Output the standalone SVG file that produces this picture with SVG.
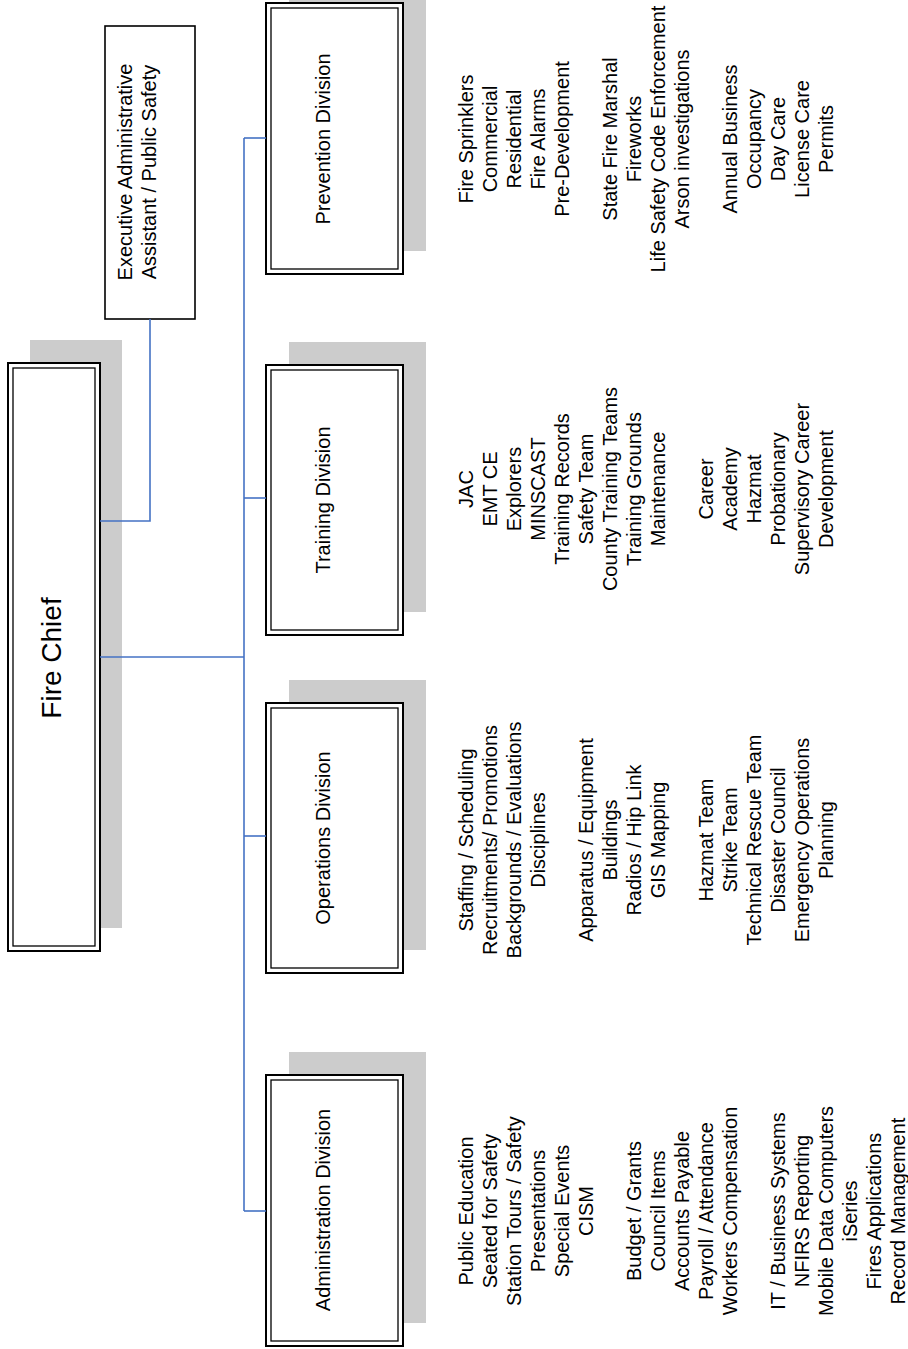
<svg xmlns="http://www.w3.org/2000/svg" width="908" height="1349" viewBox="0 0 908 1349">
<style>
.shadow{fill:#cccccc;stroke:none}
.outer{fill:#ffffff;stroke:#000;stroke-width:2}
.inner{fill:none;stroke:#000;stroke-width:1.3}
.single{fill:#ffffff;stroke:#000;stroke-width:1.6}
.conn{fill:none;stroke:#4472c4;stroke-width:1.6}
text{font-family:"Liberation Sans",Arial,sans-serif;fill:#000;text-anchor:middle}
.lbl{font-size:20px}
.list{font-size:20px}
</style>
<rect width="908" height="1349" fill="#ffffff"/>
<g id="fire-chief">
<rect class="shadow" x="30" y="340" width="92" height="588"/>
<rect class="outer" x="8" y="363" width="92" height="588"/>
<rect class="inner" x="13" y="368" width="82" height="578"/>
<text transform="translate(61,658) rotate(-90)" style="font-size:28px">Fire Chief</text>
</g>
<g id="exec-assistant">
<rect class="single" x="105" y="26" width="90" height="293"/>
<text class="list" transform="translate(132,172) rotate(-90)"><tspan x="0" y="0">Executive Administrative</tspan><tspan x="0" dy="24">Assistant / Public Safety</tspan></text>
</g>
<g id="prevention">
<rect class="shadow" x="289" y="-20" width="137" height="271"/>
<rect class="outer" x="266" y="3" width="137" height="271"/>
<rect class="inner" x="271" y="8" width="127" height="261"/>
<text class="lbl" transform="translate(330,139) rotate(-90)">Prevention Division</text>
<text class="list" transform="translate(473,139) rotate(-90)"><tspan x="0" y="0">Fire Sprinklers</tspan><tspan x="0" dy="24">Commercial</tspan><tspan x="0" dy="24">Residential</tspan><tspan x="0" dy="24">Fire Alarms</tspan><tspan x="0" dy="24">Pre-Development</tspan><tspan x="0" dy="48">State Fire Marshal</tspan><tspan x="0" dy="24">Fireworks</tspan><tspan x="0" dy="24">Life Safety Code Enforcement</tspan><tspan x="0" dy="24">Arson investigations</tspan><tspan x="0" dy="48">Annual Business</tspan><tspan x="0" dy="24">Occupancy</tspan><tspan x="0" dy="24">Day Care</tspan><tspan x="0" dy="24">License Care</tspan><tspan x="0" dy="24">Permits</tspan></text>
</g>
<g id="training">
<rect class="shadow" x="289" y="342" width="137" height="270"/>
<rect class="outer" x="266" y="365" width="137" height="270"/>
<rect class="inner" x="271" y="370" width="127" height="260"/>
<text class="lbl" transform="translate(330,500) rotate(-90)">Training Division</text>
<text class="list" transform="translate(473,489) rotate(-90)"><tspan x="0" y="0">JAC</tspan><tspan x="0" dy="24">EMT CE</tspan><tspan x="0" dy="24">Explorers</tspan><tspan x="0" dy="24">MINSCAST</tspan><tspan x="0" dy="24">Training Records</tspan><tspan x="0" dy="24">Safety Team</tspan><tspan x="0" dy="24">County Training Teams</tspan><tspan x="0" dy="24">Training Grounds</tspan><tspan x="0" dy="24">Maintenance</tspan><tspan x="0" dy="48">Career</tspan><tspan x="0" dy="24">Academy</tspan><tspan x="0" dy="24">Hazmat</tspan><tspan x="0" dy="24">Probationary</tspan><tspan x="0" dy="24">Supervisory Career</tspan><tspan x="0" dy="24">Development</tspan></text>
</g>
<g id="operations">
<rect class="shadow" x="289" y="680" width="137" height="270"/>
<rect class="outer" x="266" y="703" width="137" height="270"/>
<rect class="inner" x="271" y="708" width="127" height="260"/>
<text class="lbl" transform="translate(330,838) rotate(-90)">Operations Division</text>
<text class="list" transform="translate(473,840) rotate(-90)"><tspan x="0" y="0">Staffing / Scheduling</tspan><tspan x="0" dy="24">Recruitments/ Promotions</tspan><tspan x="0" dy="24">Backgrounds / Evaluations</tspan><tspan x="0" dy="24">Disciplines</tspan><tspan x="0" dy="48">Apparatus / Equipment</tspan><tspan x="0" dy="24">Buildings</tspan><tspan x="0" dy="24">Radios / Hip Link</tspan><tspan x="0" dy="24">GIS Mapping</tspan><tspan x="0" dy="48">Hazmat Team</tspan><tspan x="0" dy="24">Strike Team</tspan><tspan x="0" dy="24">Technical Rescue Team</tspan><tspan x="0" dy="24">Disaster Council</tspan><tspan x="0" dy="24">Emergency Operations</tspan><tspan x="0" dy="24">Planning</tspan></text>
</g>
<g id="administration">
<rect class="shadow" x="289" y="1052" width="137" height="271"/>
<rect class="outer" x="266" y="1075" width="137" height="271"/>
<rect class="inner" x="271" y="1080" width="127" height="261"/>
<text class="lbl" transform="translate(330,1210) rotate(-90)">Administration Division</text>
<text class="list" transform="translate(473,1211) rotate(-90)"><tspan x="0" y="0">Public Education</tspan><tspan x="0" dy="24">Seated for Safety</tspan><tspan x="0" dy="24">Station Tours / Safety</tspan><tspan x="0" dy="24">Presentations</tspan><tspan x="0" dy="24">Special Events</tspan><tspan x="0" dy="24">CISM</tspan><tspan x="0" dy="48">Budget / Grants</tspan><tspan x="0" dy="24">Council Items</tspan><tspan x="0" dy="24">Accounts Payable</tspan><tspan x="0" dy="24">Payroll / Attendance</tspan><tspan x="0" dy="24">Workers Compensation</tspan><tspan x="0" dy="48">IT / Business Systems</tspan><tspan x="0" dy="24">NFIRS Reporting</tspan><tspan x="0" dy="24">Mobile Data Computers</tspan><tspan x="0" dy="24">iSeries</tspan><tspan x="0" dy="24">Fires Applications</tspan><tspan x="0" dy="24">Record Management</tspan></text>
</g>
<g id="connectors">
<path class="conn" d="M100,521 H150 V319"/>
<path class="conn" d="M100,657 H244"/>
<path class="conn" d="M244,138 V1211"/>
<path class="conn" d="M244,138 H266"/>
<path class="conn" d="M244,498 H266"/>
<path class="conn" d="M244,836 H266"/>
<path class="conn" d="M244,1211 H266"/>
</g>
</svg>
